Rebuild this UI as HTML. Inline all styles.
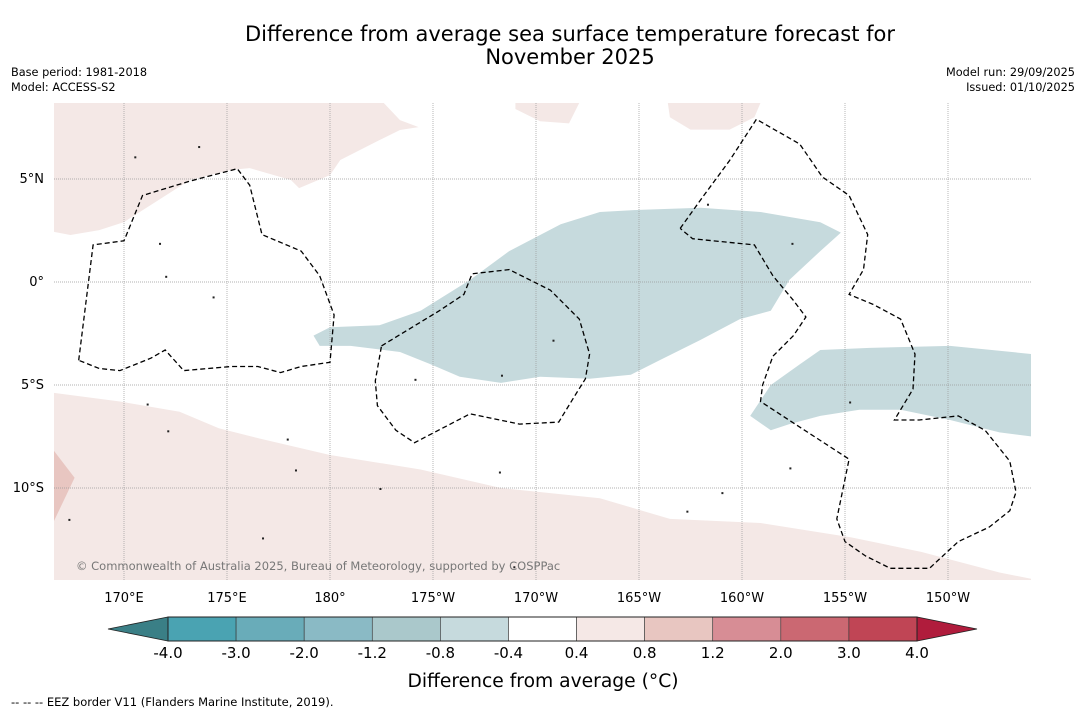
<!DOCTYPE html>
<html><head><meta charset="utf-8"><style>
body{margin:0;background:#fff;font-family:"Liberation Sans","DejaVu Sans",sans-serif;}
svg text{font-family:"DejaVu Sans","Liberation Sans",sans-serif;}
</style></head><body>
<svg id="c" width="1085" height="713" xmlns="http://www.w3.org/2000/svg">
<text x="570" y="41" font-size="21" text-anchor="middle">Difference from average sea surface temperature forecast for</text>
<text x="570" y="64" font-size="21" text-anchor="middle">November 2025</text>
<text x="11" y="76" font-size="11.3">Base period: 1981-2018</text>
<text x="11" y="91" font-size="11.3">Model: ACCESS-S2</text>
<text x="1075" y="76" font-size="11.3" text-anchor="end">Model run: 29/09/2025</text>
<text x="1075" y="91" font-size="11.3" text-anchor="end">Issued: 01/10/2025</text>
<defs><clipPath id="mc"><rect x="54" y="103" width="977" height="477"/></clipPath></defs>
<g id="map" clip-path="url(#mc)"></g>
<g id="axes"></g>
<g id="cbar"></g>
<text x="543" y="687" font-size="18.7" text-anchor="middle">Difference from average (°C)</text>
<text x="11" y="706" font-size="11.5">--  --  -- EEZ border V11 (Flanders Marine Institute, 2019).</text>
</svg>
<script>
const lonTicks=[170,175,180,185,190,195,200,205,210];
const lonLabels=["170°E","175°E","180°","175°W","170°W","165°W","160°W","155°W","150°W"];
const latTicks=[5,0,-5,-10];
const latLabels=["5°N","0°","5°S","10°S"];
const levels=["-4.0","-3.0","-2.0","-1.2","-0.8","-0.4","0.4","0.8","1.2","2.0","3.0","4.0"];
const binColors=["#4aa3b2","#69acb9","#8abac5","#aac8cb","#c6dadd","#ffffff","#f5e8e6","#e8c6c1","#d78d95","#cb6872","#c04555"];
const underColor="#3a7f86", overColor="#b01c3c";
const blueBlob1=[[179.2,-2.6],[180,-2.2],[182.4,-2.1],[184.4,-1.4],[186.8,0.1],[188.7,1.5],[191.2,2.8],[193.1,3.4],[195,3.5],[198,3.6],[200.9,3.4],[203.8,2.9],[204.8,2.4],[203.8,1.5],[202.3,0.1],[201.4,-1.4],[199.9,-1.8],[198,-2.8],[196,-3.8],[194.6,-4.5],[192.6,-4.7],[190.2,-4.6],[188.3,-4.9],[186.3,-4.6],[184.9,-4],[183.4,-3.4],[181,-3.1],[179.5,-3.1]];
const blueBlob2=[[200.4,-6.5],[201.4,-5],[202.8,-4],[203.8,-3.3],[206.2,-3.2],[210.1,-3.1],[214.1,-3.5],[214.1,-7.5],[212.5,-7.3],[210.1,-6.7],[207.7,-6.2],[205.7,-6.2],[203.8,-6.5],[202.3,-6.9],[201.4,-7.2]];
const pinkTop=[[166,8.7],[182.6,8.7],[183.4,7.86],[184.3,7.52],[183.4,7.38],[182.4,6.89],[180.5,5.92],[180,5.19],[178.5,4.56],[178.1,4.95],[176.1,5.53],[175.2,5.44],[173.2,4.95],[171.3,3.74],[170,2.91],[168.8,2.52],[167.4,2.28],[166.6,2.43],[166,2.43]];
const pinkBot=[[166,-5.3],[169.8,-5.8],[172.7,-6.3],[174.6,-7.1],[176.6,-7.6],[180,-8.4],[184.4,-9.1],[188.3,-10],[193.1,-10.5],[196.5,-11.5],[200.9,-11.7],[205.3,-12.4],[208.7,-13.1],[212.5,-14.1],[214.5,-14.5],[214.5,-15],[166,-15]];
const pinkDark=[[166.6,-8.2],[167.6,-9.5],[166.6,-11.6],[166,-11.6],[166,-8.2]];
const pinkSmall1=[[189,8.7],[192.1,8.7],[191.6,7.7],[190.2,7.8],[189,8.4]];
const pinkSmall2=[[196.4,8.7],[200.9,8.7],[200.6,8],[199.4,7.4],[197.5,7.4],[196.5,8]];
const eezLeft=[[167.8,-3.8],[168.5,1.8],[170,2],[170.9,4.2],[173.2,4.9],[175.5,5.5],[176.1,4.7],[176.7,2.3],[178.6,1.5],[179.5,0.3],[180.2,-1.6],[180,-3.9],[178.6,-4.1],[177.6,-4.4],[176.5,-4.1],[175.2,-4.1],[172.9,-4.3],[172,-3.3],[171.3,-3.7],[169.8,-4.3],[168.8,-4.2],[167.8,-3.8]];
const eezMid=[[182.5,-3.1],[185.3,-1.4],[186.5,-0.6],[186.9,0.4],[188.7,0.6],[190.7,-0.4],[192.1,-1.8],[192.6,-3.5],[192.4,-4.7],[191.9,-5.5],[191.1,-6.8],[189.2,-6.9],[186.8,-6.4],[184.1,-7.8],[183.2,-7.2],[182.3,-6],[182.2,-4.8],[182.5,-3.1]];
const eezRight=[[197,2.6],[198,4],[199.4,5.9],[200.7,7.9],[202.8,6.7],[203.9,5.1],[205.2,4.2],[206.1,2.3],[205.9,0.6],[205.2,-0.6],[206.4,-1.1],[207.7,-1.8],[208.4,-3.5],[208.3,-5.2],[207.4,-6.7],[208.6,-6.7],[210.5,-6.5],[211.8,-7.2],[213,-8.7],[213.3,-10.2],[213,-11.1],[212,-11.9],[210.5,-12.6],[209.1,-13.9],[207.2,-13.9],[206,-13.3],[205,-12.6],[204.6,-11.5],[205.2,-8.6],[200.9,-5.8],[201,-5],[201.5,-3.6],[202.5,-2.6],[203.1,-1.7],[202.5,-0.9],[201.5,0.3],[200.6,1.8],[198.6,2],[197.6,2.1],[197,2.6]];
const islands=[[171.1,-5.9],[172.1,-7.2],[177.9,-7.6],[190.8,-2.8],[184.1,-4.7],[188.3,-4.5],[197.3,-11.1],[198.3,3.8],[202.4,1.9],[202.3,-9],[205.2,-5.8],[216,0],[170.5,6.1],[171.7,1.9],[172,0.3],[174.3,-0.7],[178.3,-9.1],[182.4,-10],[176.7,-12.4],[173.6,6.6],[167.3,-11.5],[188.9,-13.8],[188.2,-9.2],[199,-10.2]];
const NS='http://www.w3.org/2000/svg';
function X(lon){return 124+(lon-170)*20.6;}
function Y(lat){return 282-lat*20.6;}
function mk(t,a,p){const e=document.createElementNS(NS,t);for(const k in a)e.setAttribute(k,a[k]);p.appendChild(e);return e;}
function pts(a){return a.map(p=>X(p[0]).toFixed(1)+','+Y(p[1]).toFixed(1)).join(' ');}
const map=document.getElementById('map'),axes=document.getElementById('axes'),cb=document.getElementById('cbar');
[[pinkTop,'#f4e8e6','pink-region-north'],[pinkBot,'#f4e8e6','pink-region-south'],[pinkDark,'#e8c6c1','darker-pink-region'],[pinkSmall1,'#f4e8e6','pink-patch-1'],[pinkSmall2,'#f4e8e6','pink-patch-2'],[blueBlob1,'#c6dadd','cool-anomaly-central'],[blueBlob2,'#c6dadd','cool-anomaly-east']].forEach(r=>{
 const e=mk('polygon',{points:pts(r[0]),fill:r[1]},map);
 
 
});
lonTicks.forEach((l,i)=>{
 const g=mk('line',{x1:X(l),x2:X(l),y1:103,y2:580,stroke:'#999','stroke-width':0.7,'stroke-dasharray':'1,1'},map);
 
 
 const t=mk('text',{x:X(l),y:602,'font-size':13,'text-anchor':'middle'},axes);t.textContent=lonLabels[i];
 
 
});
latTicks.forEach((l,i)=>{
 const g=mk('line',{x1:54,x2:1031,y1:Y(l),y2:Y(l),stroke:'#999','stroke-width':0.7,'stroke-dasharray':'1,1'},map);
 
 
 const t=mk('text',{x:44,y:Y(l)+4,'font-size':13,'text-anchor':'end'},axes);t.textContent=latLabels[i];
 
 
});
[[eezLeft,'eez-border-west'],[eezMid,'eez-border-central'],[eezRight,'eez-border-east']].forEach(r=>{
 const e=mk('polyline',{points:pts(r[0]),fill:'none',stroke:'#000','stroke-width':1.3,'stroke-dasharray':'5,3'},map);
 
 
});
islands.forEach(p=>{
 const e=mk('rect',{x:X(p[0]),y:Y(p[1]),width:2,height:2,fill:'#222'},map);
 
 
});
const cr=mk('text',{x:76,y:570,'font-size':11.5,fill:'#777'},map);cr.textContent='© Commonwealth of Australia 2025, Bureau of Meteorology, supported by COSPPac';


const cx0=168,cx1=917,cy0=617,cy1=641,w=(cx1-cx0)/binColors.length;
const u=mk('polygon',{points:`${cx0},${cy0} ${cx0},${cy1} 108,${(cy0+cy1)/2}`,fill:underColor,stroke:'#222','stroke-width':0.8},cb);


const o=mk('polygon',{points:`${cx1},${cy0} ${cx1},${cy1} 977,${(cy0+cy1)/2}`,fill:overColor,stroke:'#222','stroke-width':0.8},cb);


binColors.forEach((c,i)=>{
 const r=mk('rect',{x:cx0+i*w,y:cy0,width:w,height:cy1-cy0,fill:c,stroke:'#333','stroke-width':0.6},cb);
 
 
});
mk('rect',{x:cx0,y:cy0,width:cx1-cx0,height:cy1-cy0,fill:'none',stroke:'#222','stroke-width':1},cb);
levels.forEach((l,i)=>{
 const t=mk('text',{x:cx0+i*w,y:658,'font-size':15,'text-anchor':'middle'},cb);t.textContent=l;
 
 
});
</script>
</body></html>
